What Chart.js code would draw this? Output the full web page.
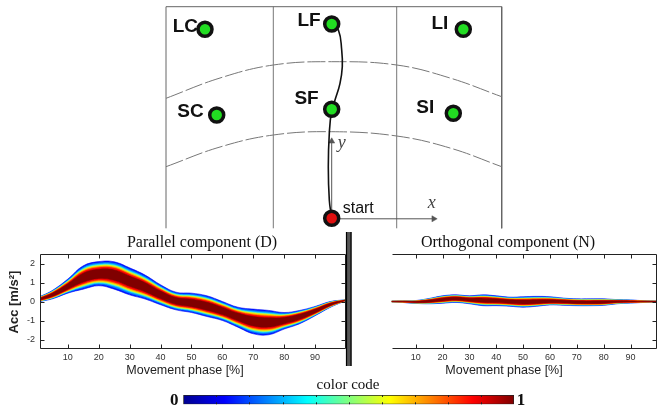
<!DOCTYPE html>
<html><head><meta charset="utf-8">
<script src="https://cdn.jsdelivr.net/npm/chart.js@4.4.1/dist/chart.umd.min.js"></script>
<style>
html,body{margin:0;padding:0;background:#fff;overflow:hidden;width:657px;height:412px;position:relative}
canvas{position:absolute;display:block}
</style></head><body>
<canvas id="cDiag" width="657" height="232" style="left:0;top:0"></canvas>
<canvas id="cPar" width="350" height="152" style="left:0;top:230px"></canvas>
<canvas id="cOrt" width="330" height="152" style="left:340px;top:230px"></canvas>
<canvas id="cBar" width="400" height="36" style="left:150px;top:376px"></canvas>
<script>
// ---------- data ----------
const phase = [1,5,10,15,20,25,30,35,40,45,50,55,60,65,70,75,80,85,90,95,100];
const phaseTicks = [10,20,30,40,50,60,70,80,90];
const accTicks = [-2,-1,0,1,2];

const parCenter = [0.12,0.35,0.78,1.25,1.45,1.40,1.07,0.75,0.35,0.03,-0.08,-0.25,-0.50,-0.80,-1.03,-1.10,-1.00,-0.80,-0.50,-0.15,0.07];
const parUpper  = [0.26,0.58,1.18,1.88,2.10,2.09,1.77,1.39,0.88,0.49,0.44,0.30,0.00,-0.30,-0.40,-0.47,-0.58,-0.47,-0.26,0.00,0.09];
const parLower  = [0.00,0.14,0.44,0.65,0.83,0.65,0.35,0.13,-0.17,-0.44,-0.58,-0.79,-1.00,-1.35,-1.70,-1.75,-1.45,-1.17,-0.75,-0.30,0.05];

const ortCenter = [0.00,0.00,-0.02,0.02,0.10,0.15,0.10,0.07,0.04,0.00,-0.03,-0.02,0.00,0.00,-0.03,-0.04,-0.03,0.00,0.00,0.00,0.00];
const ortUpper  = [0.02,0.03,0.05,0.16,0.30,0.35,0.30,0.35,0.30,0.23,0.25,0.27,0.25,0.18,0.14,0.14,0.14,0.10,0.08,0.04,0.02];
const ortLower  = [-0.02,-0.05,-0.10,-0.12,-0.09,-0.05,-0.12,-0.22,-0.22,-0.25,-0.30,-0.25,-0.18,-0.20,-0.22,-0.22,-0.20,-0.12,-0.08,-0.05,-0.02];

// density levels (inner -> outer), jet colours
const levelFrac  = [0.38,0.50,0.58,0.65,0.71,0.78,0.88,1.00];
const levelColor = ['#800000','#ff0000','#ff7a00','#ffe000','#a0ff60','#20e0ff','#0080ff','#0010ff'];

// diagram (workspace units)
const targetNames = ['LC','LF','LI','SC','SF','SI'];
const targetX = [-12.67, 0, 13.16, -11.5, 0, 12.16];
const targetY = [18.9, 19.43, 18.9, 10.33, 10.9, 10.5];
const startX = [0], startY = [0];
const pathX = [0,-0.24,-0.34,-0.24,0,0.33,0.83,1.06,1.0,0.67,0];
const pathY = [0,1.83,5.16,8.5,10.83,11.83,13.5,15.16,16.83,18.83,19.43];
const laneX = [-16.57,-5.84,6.5,17.0];
const laneTop = 21.16, laneBottom = -1.0;
const arcX = [-16.57,-11.17,-5.84,0,6.5,11.83,17.0];
const arcOuterY = [12.0,14.03,15.33,15.66,15.33,14.03,12.16];
const arcInnerY = [5.16,7.13,8.33,8.66,8.23,7.03,5.16];
const axisYLen = 7.9, axisXLen = 10.4;

// colour bar
const jetPos = [0,0.125,0.375,0.625,0.875,1];
const jetCol = ['#00008f','#0000ff','#00ffff','#ffff00','#ff0000','#800000'];
const cbTicks = [0.1,0.2,0.3,0.4,0.5,0.6,0.7,0.8,0.9];

// ---------- helpers ----------
const SANS = '"Liberation Sans", Arial, sans-serif';
const SERIF = '"Liberation Serif", "Times New Roman", serif';
const pts = (xs, ys) => xs.map((x,i)=>({x, y: ys[i]}));

function bandDatasets(center, upper, lower) {
  const ds = [];
  levelFrac.forEach((f,k) => {
    const up = phase.map((x,i)=>({x, y: center[i] + f*(upper[i]-center[i])}));
    const lo = phase.map((x,i)=>({x, y: center[i] + f*(lower[i]-center[i])}));
    ds.push({data: up, fill: '+1', backgroundColor: levelColor[k], borderColor: levelColor[k], borderWidth: 0.6, pointRadius: 0, tension: 0.4, order: k});
    ds.push({data: lo, fill: false, borderColor: levelColor[k], borderWidth: 0.6, pointRadius: 0, tension: 0.4, order: k});
  });
  return ds;
}

const deco = {
  id: 'deco',
  afterDatasetsDraw(chart, args, o) {
    const ctx = chart.ctx, a = chart.chartArea;
    ctx.save();
    if (o.sepBar) {
      const b = o.sepBar;
      ctx.fillStyle = '#555';
      ctx.fillRect(b.x0, b.y0, b.x1-b.x0, b.y1-b.y0);
      ctx.strokeStyle = '#000'; ctx.lineWidth = 1.2;
      ctx.beginPath();
      ctx.moveTo(b.x0+0.5,b.y0); ctx.lineTo(b.x0+0.5,b.y1);
      ctx.moveTo(b.x1-0.5,b.y0); ctx.lineTo(b.x1-0.5,b.y1);
      ctx.stroke();
    }
    if (o.frame) {
      ctx.strokeStyle = '#222'; ctx.lineWidth = 1;
      ctx.beginPath();
      const L = Math.round(a.left)+0.5, R = Math.round(a.right)-0.5, T = Math.round(a.top)+0.5, B = Math.round(a.bottom)-0.5;
      ctx.moveTo(L,T); ctx.lineTo(R,T);
      ctx.moveTo(L,B); ctx.lineTo(R,B);
      if (o.frameLeft) { ctx.moveTo(L,T); ctx.lineTo(L,B); }
      ctx.moveTo(R,T); ctx.lineTo(R,B);
      ctx.stroke();
      // inward ticks
      ctx.beginPath();
      const tl = 4;
      phaseTicks.forEach(v => {
        const px = Math.round(chart.scales.x.getPixelForValue(v))+0.5;
        ctx.moveTo(px,B); ctx.lineTo(px,B-tl);
        ctx.moveTo(px,T); ctx.lineTo(px,T+tl);
      });
      accTicks.forEach(v => {
        const py = Math.round(chart.scales.y.getPixelForValue(v))+0.5;
        if (o.frameLeft) { ctx.moveTo(L,py); ctx.lineTo(L+tl,py); }
        ctx.moveTo(R,py); ctx.lineTo(R-tl,py);
      });
      ctx.stroke();
    }
    (o.texts||[]).forEach(t => {
      ctx.save();
      ctx.font = t.font; ctx.fillStyle = t.color || '#000';
      ctx.textAlign = t.align || 'center'; ctx.textBaseline = 'middle';
      ctx.translate(t.x, t.y);
      if (t.rot) ctx.rotate(t.rot);
      ctx.fillText(t.t, 0, 0);
      ctx.restore();
    });
    ctx.restore();
  }
};

function bandChart(id, center, upper, lower, opts) {
  return new Chart(document.getElementById(id), {
    type: 'line',
    data: { datasets: bandDatasets(center, upper, lower) },
    options: {
      responsive: false, animation: false, events: [],
      layout: { padding: opts.padding, autoPadding: false },
      plugins: { legend: {display:false}, tooltip: {enabled:false}, deco: opts.deco },
      scales: {
        x: { type: 'linear', min: 1, max: 100,
             afterBuildTicks: s => { s.ticks = phaseTicks.map(v=>({value:v})); },
             afterFit: s => { s.height = 33; },
             grid: {display:false, drawTicks:false, tickLength:0}, border: {display:false},
             ticks: { font: {family: SANS, size: 9}, color: '#333', padding: 3, maxRotation: 0, autoSkip: false } },
        y: { type: 'linear', min: -2.5, max: 2.5, display: opts.showY,
             afterBuildTicks: s => { s.ticks = accTicks.map(v=>({value:v})); },
             afterFit: s => { s.width = 40; },
             grid: {display:false, drawTicks:false, tickLength:0}, border: {display:false},
             ticks: { font: {family: SANS, size: 9}, color: '#333', padding: 5 } }
      }
    },
    plugins: [deco]
  });
}

bandChart('cPar', parCenter, parUpper, parLower, {
  showY: true,
  padding: {top: 24, right: 4, left: 0, bottom: 0},
  deco: { frame: true, frameLeft: true, texts: [
    {t: 'Parallel component (D)', x: 202, y: 13, font: '16px ' + SERIF, color: '#111'},
    {t: 'Acc [m/s²]', x: 14, y: 72, font: 'bold 13px ' + SANS, color: '#222', rot: -Math.PI/2},
    {t: 'Movement phase [%]', x: 185, y: 141, font: '12.5px ' + SANS, color: '#222'}
  ]}
});

bandChart('cOrt', ortCenter, ortUpper, ortLower, {
  showY: false,
  padding: {top: 24, right: 12.6, left: 11.5, bottom: 0},
  deco: { frame: true, frameLeft: false,
    sepBar: {x0: 6, x1: 11.5, y0: 2, y1: 136},
    texts: [
    {t: 'Orthogonal component (N)', x: 168, y: 13, font: '16px ' + SERIF, color: '#111'},
    {t: 'Movement phase [%]', x: 164, y: 141, font: '12.5px ' + SANS, color: '#222'}
  ]}
});

// ---------- diagram ----------
const labelOffsets = [[-7,-3],[-11,-3],[-15,-6],[-13,-3],[-13,-11],[-19,-6]];
const diagLabels = {
  id: 'diagLabels',
  afterDatasetsDraw(chart) {
    const {ctx, scales:{x, y}} = chart;
    ctx.save();
    ctx.fillStyle = '#111';
    ctx.font = 'bold 19px ' + SANS;
    ctx.textAlign = 'right'; ctx.textBaseline = 'middle';
    targetNames.forEach((n,i) => {
      ctx.fillText(n, x.getPixelForValue(targetX[i]) + labelOffsets[i][0], y.getPixelForValue(targetY[i]) + labelOffsets[i][1]);
    });
    ctx.textAlign = 'left';
    ctx.font = '16px ' + SANS;
    ctx.fillText('start', x.getPixelForValue(startX[0]) + 11, y.getPixelForValue(startY[0]) - 10);
    ctx.fillStyle = '#444';
    ctx.font = 'italic 18px ' + SERIF;
    ctx.textAlign = 'center';
    ctx.fillText('x', x.getPixelForValue(axisXLen) - 4, y.getPixelForValue(0) - 15);
    ctx.fillText('y', x.getPixelForValue(0) + 10, y.getPixelForValue(axisYLen) + 4);
    ctx.restore();
  }
};

const lineDs = (data, extra) => Object.assign({data, showLine: true, pointRadius: 0, fill: false, clip: false, borderColor: '#777', borderWidth: 1, tension: 0}, extra);
const diagDatasets = [
  {data: pts(targetX, targetY), showLine: false, pointRadius: 7, pointBorderWidth: 3.5, pointBorderColor: '#111', pointBackgroundColor: '#22dd22', clip: false, order: 0},
  {data: pts(startX, startY), showLine: false, pointRadius: 7, pointBorderWidth: 3.5, pointBorderColor: '#111', pointBackgroundColor: '#e01010', clip: false, order: 0},
  lineDs(pts(pathX, pathY), {borderColor: '#111', borderWidth: 1.6, tension: 0.45, order: 1}),
  lineDs([{x:0,y:0},{x:0,y:axisYLen}], {borderColor: '#555', order: 2}),
  {data: [{x:0,y:axisYLen-0.2}], showLine:false, pointStyle:'triangle', pointRotation:0, pointRadius:3.5, pointBackgroundColor:'#555', pointBorderColor:'#555', pointBorderWidth:0.5, clip:false, order:2},
  lineDs([{x:0,y:-0.05},{x:axisXLen,y:-0.05}], {borderColor: '#555', order: 2}),
  {data: [{x:axisXLen-0.2,y:-0.05}], showLine:false, pointStyle:'triangle', pointRotation:90, pointRadius:3.5, pointBackgroundColor:'#555', pointBorderColor:'#555', pointBorderWidth:0.5, clip:false, order:2},
  lineDs(pts(arcX, arcOuterY), {borderDash: [18,3], tension: 0.4, order: 3}),
  lineDs(pts(arcX, arcInnerY), {borderDash: [18,3], tension: 0.4, order: 3}),
  lineDs([{x:laneX[0],y:laneBottom},{x:laneX[0],y:laneTop},{x:laneX[3],y:laneTop},{x:laneX[3],y:laneBottom}], {borderColor:'#666', order: 4}),
  lineDs([{x:laneX[1],y:laneBottom},{x:laneX[1],y:laneTop}], {borderColor:'#777', order: 4}),
  lineDs([{x:laneX[2],y:laneBottom},{x:laneX[2],y:laneTop}], {borderColor:'#777', order: 4})
];
new Chart(document.getElementById('cDiag'), {
  type: 'line',
  data: { datasets: diagDatasets },
  options: {
    responsive: false, animation: false, events: [],
    layout: { padding: 0, autoPadding: false },
    plugins: { legend: {display:false}, tooltip: {enabled:false} },
    scales: {
      x: { type: 'linear', min: -33.17, max: 32.53, display: false },
      y: { type: 'linear', min: -1.37, max: 21.83, display: false }
    }
  },
  plugins: [diagLabels]
});

// ---------- colour bar ----------
const cbDeco = {
  id: 'cbDeco',
  afterDatasetsDraw(chart) {
    const ctx = chart.ctx, a = chart.chartArea, x = chart.scales.x;
    ctx.save();
    ctx.strokeStyle = '#222'; ctx.lineWidth = 1;
    ctx.beginPath();
    cbTicks.forEach(v => {
      const px = Math.round(x.getPixelForValue(v))+0.5;
      ctx.moveTo(px, a.top); ctx.lineTo(px, a.top+2);
      ctx.moveTo(px, a.bottom); ctx.lineTo(px, a.bottom-2);
    });
    ctx.stroke();
    ctx.fillStyle = '#111'; ctx.textAlign = 'center'; ctx.textBaseline = 'middle';
    ctx.font = '15px ' + SERIF;
    ctx.fillText('color code', 198, 9);
    ctx.font = 'bold 17px ' + SERIF;
    ctx.fillText('0', x.getPixelForValue(0) - 9, (a.top+a.bottom)/2 + 1);
    ctx.fillText('1', x.getPixelForValue(1) + 7, (a.top+a.bottom)/2 + 1);
    ctx.restore();
  }
};
new Chart(document.getElementById('cBar'), {
  type: 'bar',
  data: { labels: ['color code'], datasets: [{
    data: [1],
    backgroundColor: c => {
      const ch = c.chart;
      if (!ch.chartArea || !ch.scales.x) return jetCol[0];
      const g = ch.ctx.createLinearGradient(ch.scales.x.getPixelForValue(0), 0, ch.scales.x.getPixelForValue(1), 0);
      jetPos.forEach((p,i) => g.addColorStop(p, jetCol[i]));
      return g;
    },
    borderColor: '#222', borderWidth: 1, borderSkipped: false,
    barPercentage: 1, categoryPercentage: 1
  }]},
  options: {
    indexAxis: 'y', responsive: false, animation: false, events: [],
    layout: { padding: {left: 33.3, right: 36, top: 19, bottom: 7.7}, autoPadding: false },
    plugins: { legend: {display:false}, tooltip: {enabled:false} },
    scales: { x: {min: 0, max: 1, display: false}, y: {display: false} }
  },
  plugins: [cbDeco]
});
</script>
</body></html>
